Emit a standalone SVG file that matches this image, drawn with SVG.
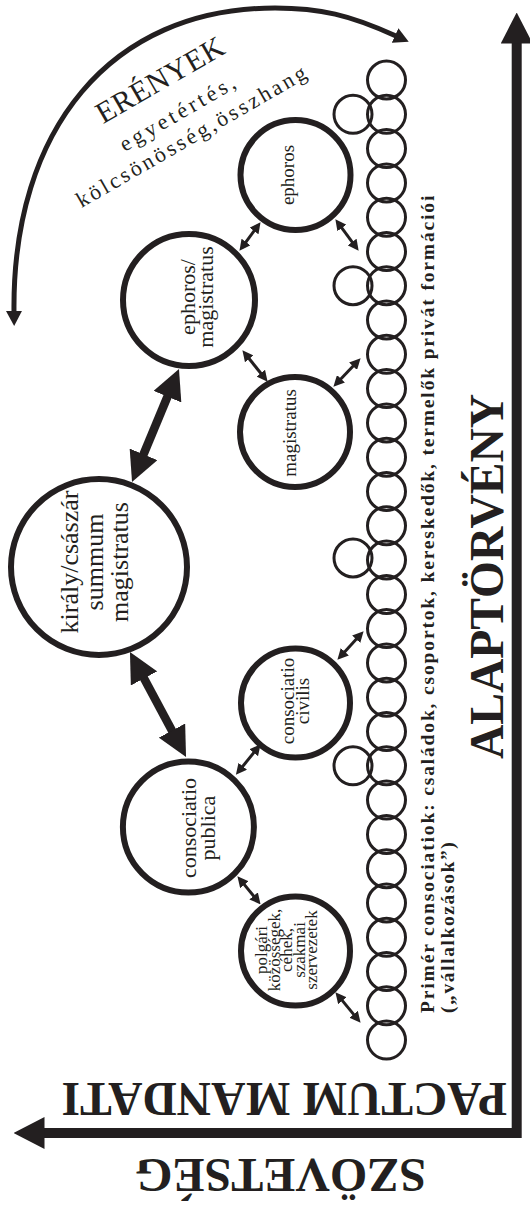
<svg xmlns="http://www.w3.org/2000/svg" width="530" height="1205" viewBox="0 0 530 1205">
<style>
text { font-family: "Liberation Serif", "Times New Roman", serif; fill: #231f20; }
.b { font-weight: bold; }
.node { fill: none; stroke: #231f20; stroke-width: 6; }
.ring { fill: none; stroke: #231f20; stroke-width: 3; }
.thin { stroke: #231f20; stroke-width: 3; fill: none; marker-start: url(#hs); marker-end: url(#hs); }
.thick { stroke: #231f20; stroke-width: 8.5; fill: none; marker-start: url(#hl); marker-end: url(#hl); }
.big { stroke: #231f20; stroke-width: 10; fill: none; stroke-linejoin: miter; marker-start: url(#hb); marker-end: url(#hb); }
.arc { stroke: #231f20; stroke-width: 5; fill: none; marker-start: url(#hc); marker-end: url(#hc); }
</style>
<defs>
<marker id="hs" viewBox="0 0 11 11" refX="3" refY="5.5" markerWidth="11" markerHeight="11" markerUnits="userSpaceOnUse" orient="auto-start-reverse"><path d="M0,0 L11,5.5 L0,11 z" fill="#231f20"/></marker>
<marker id="hl" viewBox="0 0 30 30" refX="4" refY="15" markerWidth="30" markerHeight="30" markerUnits="userSpaceOnUse" orient="auto-start-reverse"><path d="M0,0 L30,15 L0,30 z" fill="#231f20"/></marker>
<marker id="hb" viewBox="0 0 31 32" refX="0.5" refY="16" markerWidth="31" markerHeight="32" markerUnits="userSpaceOnUse" orient="auto-start-reverse"><path d="M0,0 L31,16 L0,32 z" fill="#231f20"/></marker>
<marker id="hc" viewBox="0 0 15 16" refX="1" refY="8" markerWidth="15" markerHeight="16" markerUnits="userSpaceOnUse" orient="auto-start-reverse"><path d="M0,0 L15,8 L0,16 z" fill="#231f20"/></marker>
</defs>

<g id="connectors">
<path class="big" d="M516.7 43 L516.7 1133 L44 1133"/>
<path class="arc" d="M14 312 C12 130 110 8 275 8 C320 8 350 15 396 36"/>
<line class="thick" x1="169" y1="393" x2="142" y2="458"/>
<line class="thick" x1="142.2" y1="674.9" x2="173.8" y2="734.1"/>
<line class="thin" x1="244.2" y1="244.4" x2="255.8" y2="228.6"/>
<line class="thin" x1="340.1" y1="225.6" x2="353.9" y2="244.4"/>
<line class="thin" x1="247.4" y1="356.5" x2="262.6" y2="375.5"/>
<line class="thin" x1="338.9" y1="381" x2="355.1" y2="364"/>
<line class="thin" x1="342.8" y1="653.9" x2="358.2" y2="637.1"/>
<line class="thin" x1="240.9" y1="768.6" x2="255.6" y2="750.4"/>
<line class="thin" x1="242.5" y1="882.4" x2="255.5" y2="898.2"/>
<line class="thin" x1="340.5" y1="998.4" x2="355.5" y2="1016.6"/>
</g>

<g id="virtues">
<g transform="translate(196,142) rotate(-30)">
<text x="0" y="-62" text-anchor="middle" font-size="30" letter-spacing="0.5">ERÉNYEK</text>
<text x="0" y="-27" text-anchor="middle" font-size="22" letter-spacing="3.5">egyetértés,</text>
<text x="0" y="0" text-anchor="middle" font-size="22" letter-spacing="2.9">kölcsönösség,összhang</text>
</g>
</g>

<g id="node-king">
<circle class="node" cx="99" cy="567" r="88"/>
<text transform="translate(78,562) rotate(-90)" text-anchor="middle" font-size="26">király/császár</text>
<text transform="translate(103,562) rotate(-90)" text-anchor="middle" font-size="26">summum</text>
<text transform="translate(128,562) rotate(-90)" text-anchor="middle" font-size="26">magistratus</text>
</g>

<g id="node-ephoros-magistratus">
<circle class="node" cx="189" cy="300" r="66"/>
<text transform="translate(195,297) rotate(-90)" text-anchor="middle" font-size="22">ephoros/</text>
<text transform="translate(213,297) rotate(-90)" text-anchor="middle" font-size="22">magistratus</text>
</g>

<g id="node-ephoros">
<circle class="node" cx="295.5" cy="175" r="55"/>
<text transform="translate(294,175) rotate(-90)" text-anchor="middle" font-size="19">ephoros</text>
</g>

<g id="node-magistratus">
<circle class="node" cx="295" cy="432" r="55"/>
<text transform="translate(295.5,433) rotate(-90)" text-anchor="middle" font-size="19">magistratus</text>
</g>

<g id="node-consociatio-civilis">
<circle class="node" cx="295.5" cy="703" r="54.5"/>
<text transform="translate(294,701) rotate(-90)" text-anchor="middle" font-size="19">consociatio</text>
<text transform="translate(309,701) rotate(-90)" text-anchor="middle" font-size="19">civilis</text>
</g>

<g id="node-consociatio-publica">
<circle class="node" cx="188.4" cy="827" r="65.5"/>
<text transform="translate(196,828) rotate(-90)" text-anchor="middle" font-size="22">consociatio</text>
<text transform="translate(215,828) rotate(-90)" text-anchor="middle" font-size="22">publica</text>
</g>

<g id="node-polgari">
<circle class="node" cx="295.5" cy="951" r="54.5"/>
<text transform="translate(267,950) rotate(-90)" text-anchor="middle" font-size="17">polgári</text>
<text transform="translate(279.5,950) rotate(-90)" text-anchor="middle" font-size="17">közösségek,</text>
<text transform="translate(292,950) rotate(-90)" text-anchor="middle" font-size="17">céhek,</text>
<text transform="translate(304.5,950) rotate(-90)" text-anchor="middle" font-size="17">szakmai</text>
<text transform="translate(317,950) rotate(-90)" text-anchor="middle" font-size="17">szervezetek</text>
</g>

<g id="node-primary-chain">
<circle class="ring" cx="386.5" cy="80" r="19"/>
<circle class="ring" cx="386.5" cy="114.3" r="19"/>
<circle class="ring" cx="386.5" cy="148.6" r="19"/>
<circle class="ring" cx="386.5" cy="182.9" r="19"/>
<circle class="ring" cx="386.5" cy="217.2" r="19"/>
<circle class="ring" cx="386.5" cy="251.5" r="19"/>
<circle class="ring" cx="386.5" cy="285.7" r="19"/>
<circle class="ring" cx="386.5" cy="320" r="19"/>
<circle class="ring" cx="386.5" cy="354.3" r="19"/>
<circle class="ring" cx="386.5" cy="388.6" r="19"/>
<circle class="ring" cx="386.5" cy="422.9" r="19"/>
<circle class="ring" cx="386.5" cy="457.2" r="19"/>
<circle class="ring" cx="386.5" cy="491.5" r="19"/>
<circle class="ring" cx="386.5" cy="525.8" r="19"/>
<circle class="ring" cx="386.5" cy="560" r="19"/>
<circle class="ring" cx="386.5" cy="594.4" r="19"/>
<circle class="ring" cx="386.5" cy="628.6" r="19"/>
<circle class="ring" cx="386.5" cy="662.9" r="19"/>
<circle class="ring" cx="386.5" cy="697.2" r="19"/>
<circle class="ring" cx="386.5" cy="731.5" r="19"/>
<circle class="ring" cx="386.5" cy="765.8" r="19"/>
<circle class="ring" cx="386.5" cy="800.1" r="19"/>
<circle class="ring" cx="386.5" cy="834.4" r="19"/>
<circle class="ring" cx="386.5" cy="868.7" r="19"/>
<circle class="ring" cx="386.5" cy="903" r="19"/>
<circle class="ring" cx="386.5" cy="937.3" r="19"/>
<circle class="ring" cx="386.5" cy="971.5" r="19"/>
<circle class="ring" cx="386.5" cy="1005.8" r="19"/>
<circle class="ring" cx="386.5" cy="1040.1" r="19"/>
<circle class="ring" cx="353" cy="114.3" r="19"/>
<circle class="ring" cx="353" cy="285.7" r="19"/>
<circle class="ring" cx="353" cy="558" r="19"/>
<circle class="ring" cx="353" cy="765.8" r="19"/>
</g>

<g id="label-primary">
<text class="b" transform="translate(434,1013) rotate(-90)" font-size="19.5" letter-spacing="1.85">Primér consociatiok: családok, csoportok, kereskedők, termelők privát formációi</text>
<text class="b" transform="translate(454,1013) rotate(-90)" font-size="19.5" letter-spacing="1.6">(„vállalkozások”)</text>
</g>

<g id="label-alaptorveny">
<text class="b" transform="translate(503,759) rotate(-90)" font-size="47.5">ALAPTÖRVÉNY</text>
</g>
<g id="label-pactum">
<text class="b" transform="translate(507,1083) rotate(180)" font-size="47.5">PACTUM MANDATI</text>
</g>
<g id="label-szovetseg">
<text class="b" transform="translate(426,1159) rotate(180)" font-size="48">SZÖVETSÉG</text>
</g>
</svg>
